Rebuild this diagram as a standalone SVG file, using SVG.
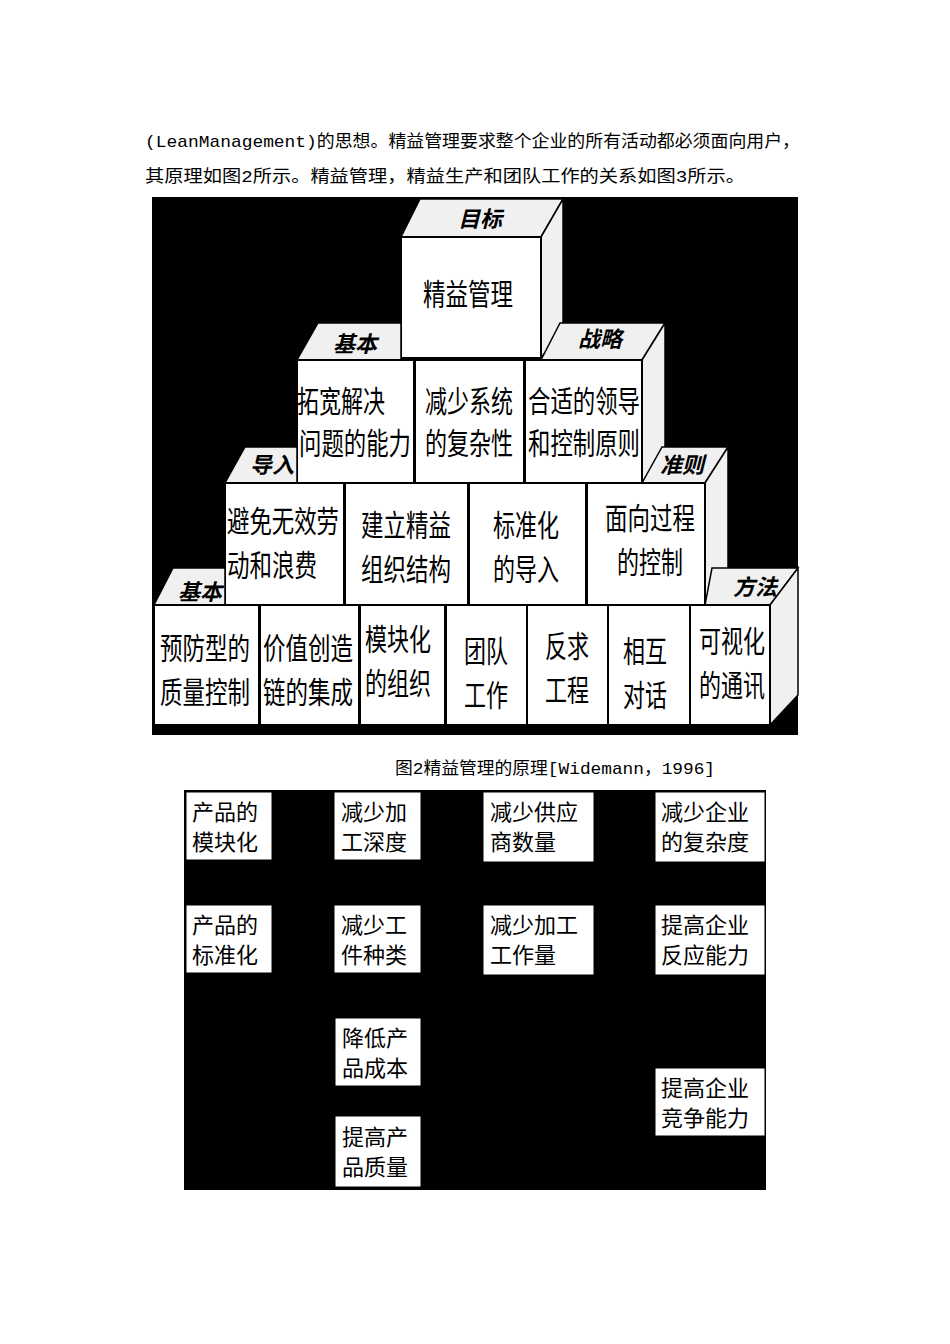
<svg xmlns="http://www.w3.org/2000/svg" width="950" height="1344" viewBox="0 0 950 1344">
<style>
.t{font-family:"Liberation Mono","Noto Sans CJK SC",monospace;font-size:17px;fill:#000}
.f{fill:#fff;stroke:#000;stroke-width:2}
.s{fill:#f0f0f0;stroke:#000;stroke-width:1.5}
.c{font-family:"Noto Sans CJK SC",sans-serif;font-size:30px;fill:#000;text-anchor:middle}
.l{font-family:"Noto Sans CJK SC",sans-serif;font-size:22px;font-weight:bold;font-style:italic;fill:#000;text-anchor:middle}
.b{fill:#fff;stroke:#000;stroke-width:1}
.bt{font-family:"Noto Sans CJK SC",sans-serif;font-size:22px;fill:#000}
</style>
<rect width="950" height="1344" fill="#fff"/>
<text class="t" x="145" y="147" textLength="655" lengthAdjust="spacingAndGlyphs">(LeanManagement)的思想。精益管理要求整个企业的所有活动都必须面向用户，</text>
<text class="t" x="145" y="182" textLength="600" lengthAdjust="spacingAndGlyphs">其原理如图2所示。精益管理，精益生产和团队工作的关系如图3所示。</text>
<rect x="152" y="197" width="646" height="538" fill="#000"/>
<g id="pyramid">
<polygon class="s" points="401,237 420,199 563,199 541,237"/>
<polygon class="s" points="541,237 563,199 563,328 541,358"/>
<rect class="f" x="401" y="237" width="140" height="121"/>
<text class="l" x="480" y="227">目标</text>
<text class="c" x="468" y="305" textLength="90" lengthAdjust="spacingAndGlyphs">精益管理</text>
<polygon class="s" points="297,360 318,323 401,323 401,360"/>
<polygon class="s" points="541,360 560,323 665,323 642,360"/>
<polygon class="s" points="642,360 665,323 665,448 642,483"/>
<text class="l" x="355" y="352">基本</text>
<text class="l" x="600" y="347">战略</text>
<rect class="f" x="297" y="360" width="117" height="123"/>
<rect class="f" x="415" y="360" width="109" height="123"/>
<rect class="f" x="525" y="360" width="117" height="123"/>
<text class="c" x="341" y="412" textLength="88" lengthAdjust="spacingAndGlyphs">拓宽解决</text><text class="c" x="355" y="454" textLength="112" lengthAdjust="spacingAndGlyphs">问题的能力</text>
<text class="c" x="469" y="412" textLength="88" lengthAdjust="spacingAndGlyphs">减少系统</text><text class="c" x="469" y="454" textLength="88" lengthAdjust="spacingAndGlyphs">的复杂性</text>
<text class="c" x="584" y="412" textLength="112" lengthAdjust="spacingAndGlyphs">合适的领导</text><text class="c" x="584" y="454" textLength="112" lengthAdjust="spacingAndGlyphs">和控制原则</text>
<polygon class="s" points="225,483 245,447 297,447 297,483"/>
<polygon class="s" points="642,483 662,447 728,447 705,483"/>
<polygon class="s" points="705,483 728,447 728,570 705,604"/>
<text class="l" x="272" y="473">导入</text>
<text class="l" x="682" y="473">准则</text>
<rect class="f" x="225" y="483" width="119" height="122"/>
<rect class="f" x="345" y="483" width="123" height="122"/>
<rect class="f" x="469" y="483" width="117" height="122"/>
<rect class="f" x="587" y="483" width="118" height="122"/>
<text class="c" x="283" y="532" textLength="112" lengthAdjust="spacingAndGlyphs">避免无效劳</text><text class="c" x="272" y="576" textLength="90" lengthAdjust="spacingAndGlyphs">动和浪费</text>
<text class="c" x="406" y="536" textLength="90" lengthAdjust="spacingAndGlyphs">建立精益</text><text class="c" x="406" y="580" textLength="90" lengthAdjust="spacingAndGlyphs">组织结构</text>
<text class="c" x="526" y="536" textLength="66" lengthAdjust="spacingAndGlyphs">标准化</text><text class="c" x="526" y="580" textLength="66" lengthAdjust="spacingAndGlyphs">的导入</text>
<text class="c" x="650" y="529" textLength="90" lengthAdjust="spacingAndGlyphs">面向过程</text><text class="c" x="650" y="573" textLength="66" lengthAdjust="spacingAndGlyphs">的控制</text>
<polygon class="s" points="154,605 173,568 225,568 225,605"/>
<polygon class="s" points="705,605 712,568 798,568 770,605"/>
<polygon class="s" points="770,605 798,568 798,695 770,725"/>
<text class="l" x="200" y="600">基本</text>
<text class="l" x="755" y="595">方法</text>
<rect class="f" x="154" y="605" width="105" height="120"/>
<rect class="f" x="260" y="605" width="99" height="120"/>
<rect class="f" x="360" y="605" width="85" height="120"/>
<rect class="f" x="446" y="605" width="81" height="120"/>
<rect class="f" x="527" y="605" width="81" height="120"/>
<rect class="f" x="608" y="605" width="82" height="120"/>
<rect class="f" x="690" y="605" width="80" height="120"/>
<text class="c" x="205" y="659" textLength="90" lengthAdjust="spacingAndGlyphs">预防型的</text><text class="c" x="205" y="703" textLength="90" lengthAdjust="spacingAndGlyphs">质量控制</text>
<text class="c" x="308" y="659" textLength="90" lengthAdjust="spacingAndGlyphs">价值创造</text><text class="c" x="308" y="703" textLength="90" lengthAdjust="spacingAndGlyphs">链的集成</text>
<text class="c" x="398" y="650" textLength="66" lengthAdjust="spacingAndGlyphs">模块化</text><text class="c" x="398" y="694" textLength="66" lengthAdjust="spacingAndGlyphs">的组织</text>
<text class="c" x="486" y="662" textLength="44" lengthAdjust="spacingAndGlyphs">团队</text><text class="c" x="486" y="706" textLength="44" lengthAdjust="spacingAndGlyphs">工作</text>
<text class="c" x="567" y="657" textLength="44" lengthAdjust="spacingAndGlyphs">反求</text><text class="c" x="567" y="701" textLength="44" lengthAdjust="spacingAndGlyphs">工程</text>
<text class="c" x="645" y="662" textLength="44" lengthAdjust="spacingAndGlyphs">相互</text><text class="c" x="645" y="706" textLength="44" lengthAdjust="spacingAndGlyphs">对话</text>
<text class="c" x="732" y="652" textLength="66" lengthAdjust="spacingAndGlyphs">可视化</text><text class="c" x="732" y="696" textLength="66" lengthAdjust="spacingAndGlyphs">的通讯</text>
</g>
<text class="t" x="395" y="774" textLength="320" lengthAdjust="spacingAndGlyphs">图2精益管理的原理[Widemann，1996]</text>
<rect x="184" y="790" width="582" height="400" fill="#000"/>
<g id="b1"><rect class="b" x="186" y="792" width="86" height="68"/><text class="bt" x="192" y="820">产品的</text><text class="bt" x="192" y="850">模块化</text></g>
<g id="b2"><rect class="b" x="334" y="792" width="87" height="68"/><text class="bt" x="341" y="820">减少加</text><text class="bt" x="341" y="850">工深度</text></g>
<g id="b3"><rect class="b" x="483" y="792" width="111" height="70"/><text class="bt" x="490" y="820">减少供应</text><text class="bt" x="490" y="850">商数量</text></g>
<g id="b4"><rect class="b" x="655" y="792" width="110" height="70"/><text class="bt" x="661" y="820">减少企业</text><text class="bt" x="661" y="850">的复杂度</text></g>
<g id="b5"><rect class="b" x="186" y="905" width="86" height="68"/><text class="bt" x="192" y="933">产品的</text><text class="bt" x="192" y="963">标准化</text></g>
<g id="b6"><rect class="b" x="334" y="905" width="87" height="68"/><text class="bt" x="341" y="933">减少工</text><text class="bt" x="341" y="963">件种类</text></g>
<g id="b7"><rect class="b" x="483" y="905" width="111" height="70"/><text class="bt" x="490" y="933">减少加工</text><text class="bt" x="490" y="963">工作量</text></g>
<g id="b8"><rect class="b" x="655" y="905" width="110" height="70"/><text class="bt" x="661" y="933">提高企业</text><text class="bt" x="661" y="963">反应能力</text></g>
<g id="b9"><rect class="b" x="335" y="1018" width="86" height="68"/><text class="bt" x="342" y="1046">降低产</text><text class="bt" x="342" y="1076">品成本</text></g>
<g id="b10"><rect class="b" x="655" y="1068" width="110" height="68"/><text class="bt" x="661" y="1096">提高企业</text><text class="bt" x="661" y="1126">竞争能力</text></g>
<g id="b11"><rect class="b" x="335" y="1116" width="86" height="71"/><text class="bt" x="342" y="1145">提高产</text><text class="bt" x="342" y="1175">品质量</text></g>
<g id="connectors"/>
</svg>
